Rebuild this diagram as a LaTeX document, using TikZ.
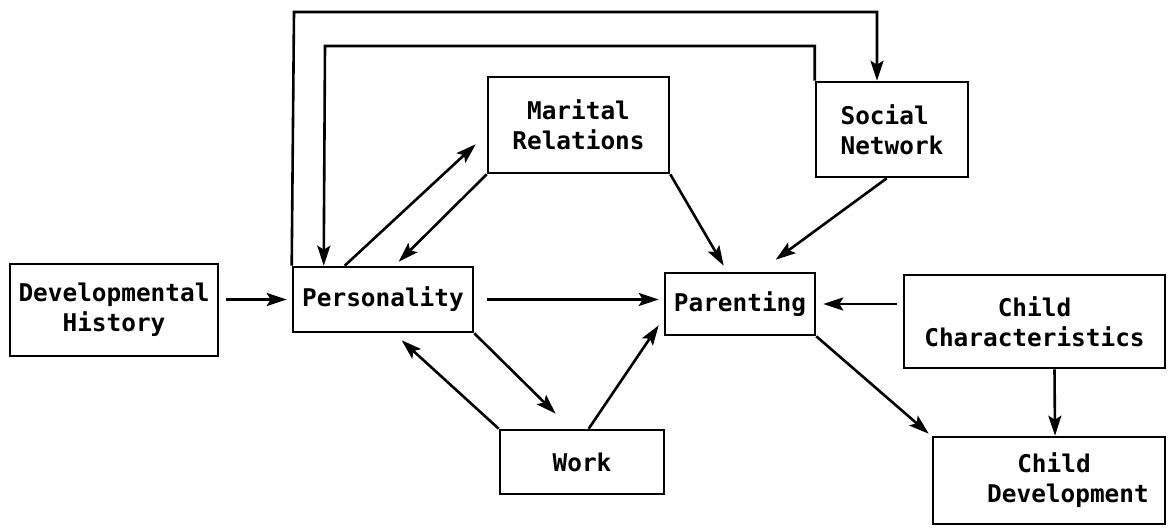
\documentclass[tikz,border=0pt]{standalone}
\usepackage{fontspec}
\newfontfamily\plotter{DejaVu Sans Mono}
\usetikzlibrary{arrows.meta}

\tikzset{
    box/.style={draw, line width=1.3pt, align=center, inner sep=0pt,
        font=\plotter\bfseries\fontsize{12.2}{15}\selectfont},
    arr/.style={line width=1.3pt, -{Stealth[length=10pt, width=6.5pt, inset=2pt]}},
}

\begin{document}
\begin{tikzpicture}[x=0.5pt, y=-0.5pt]
    \useasboundingbox (0,0) rectangle (1173,531);

    \node[box, minimum width=104pt, minimum height=46pt] (devhist) at (114,310) {Developmental\\History};
    \node[box, minimum width=90pt, minimum height=32.5pt] (personality) at (383,299.5) {Personality};
    \node[box, minimum width=90.5pt, minimum height=48pt] (marital) at (578.5,125) {Marital\\Relations};
    \node[box, align=left, minimum width=76pt, minimum height=47.5pt] (social) at (892,129.5) {Social\\Network};
    \node[box, minimum width=75pt, minimum height=31pt] (parenting) at (740,304) {Parenting};
    \node[box, minimum width=130.5pt, minimum height=46.5pt] (childchar) at (1034.5,321.5) {Child\\Characteristics};
    \node[box, minimum width=82pt, minimum height=32pt] (work) at (582,462) {Work};
    \node[box, minimum width=116pt, minimum height=43.5pt] (childdev) at (1049,480.5) {\hspace*{5pt}Child\\\hspace*{19pt}Development};

    \coordinate (outer) at (294,12);
    \coordinate (inner) at (325,46);

    % feedback loops over the top
    \draw[arr] (personality.north west) -- (outer) -| ([xshift=-7.5pt]social.north);
    \draw[arr] (social.north west) |- (inner) -- ([xshift=16pt]personality.north west);

    \draw[arr, shorten <=3.5pt, shorten >=2.5pt] (devhist.east |- personality.west) -- (personality.west);
    \draw[arr, shorten <=6.5pt, shorten >=2.5pt] (personality.east) -- (parenting.west |- personality.east);
    \draw[arr, shorten <=3pt, shorten >=3.5pt] (childchar.west |- parenting.east) -- (parenting.east);

    \draw[arr] ([xshift=26.5pt]personality.north west) -- ([xshift=-5.5pt, yshift=15pt]marital.south west);
    \draw[arr] (marital.south west) -- ([xshift=53.5pt, yshift=2pt]personality.north west);
    \draw[arr] (marital.south east) -- ([xshift=30pt, yshift=3pt]parenting.north west);
    \draw[arr] ([xshift=36pt]social.south west) -- ([xshift=56pt, yshift=6pt]parenting.north west);

    \draw[arr] (personality.south east) -- ([xshift=28.5pt, yshift=7.5pt]work.north west);
    \draw[arr] (work.north west) -- ([xshift=55pt, yshift=-3.5pt]personality.south west);
    \draw[arr] ([xshift=45pt]work.north west) -- ([xshift=-2.5pt, yshift=5.5pt]parenting.south west);

    \draw[arr] (parenting.south east) -- ([xshift=-1.5pt, yshift=1pt]childdev.north west);
    \draw[arr] ([xshift=10pt]childchar.south) -- ([xshift=3pt]childdev.north);

\end{tikzpicture}
\end{document}
